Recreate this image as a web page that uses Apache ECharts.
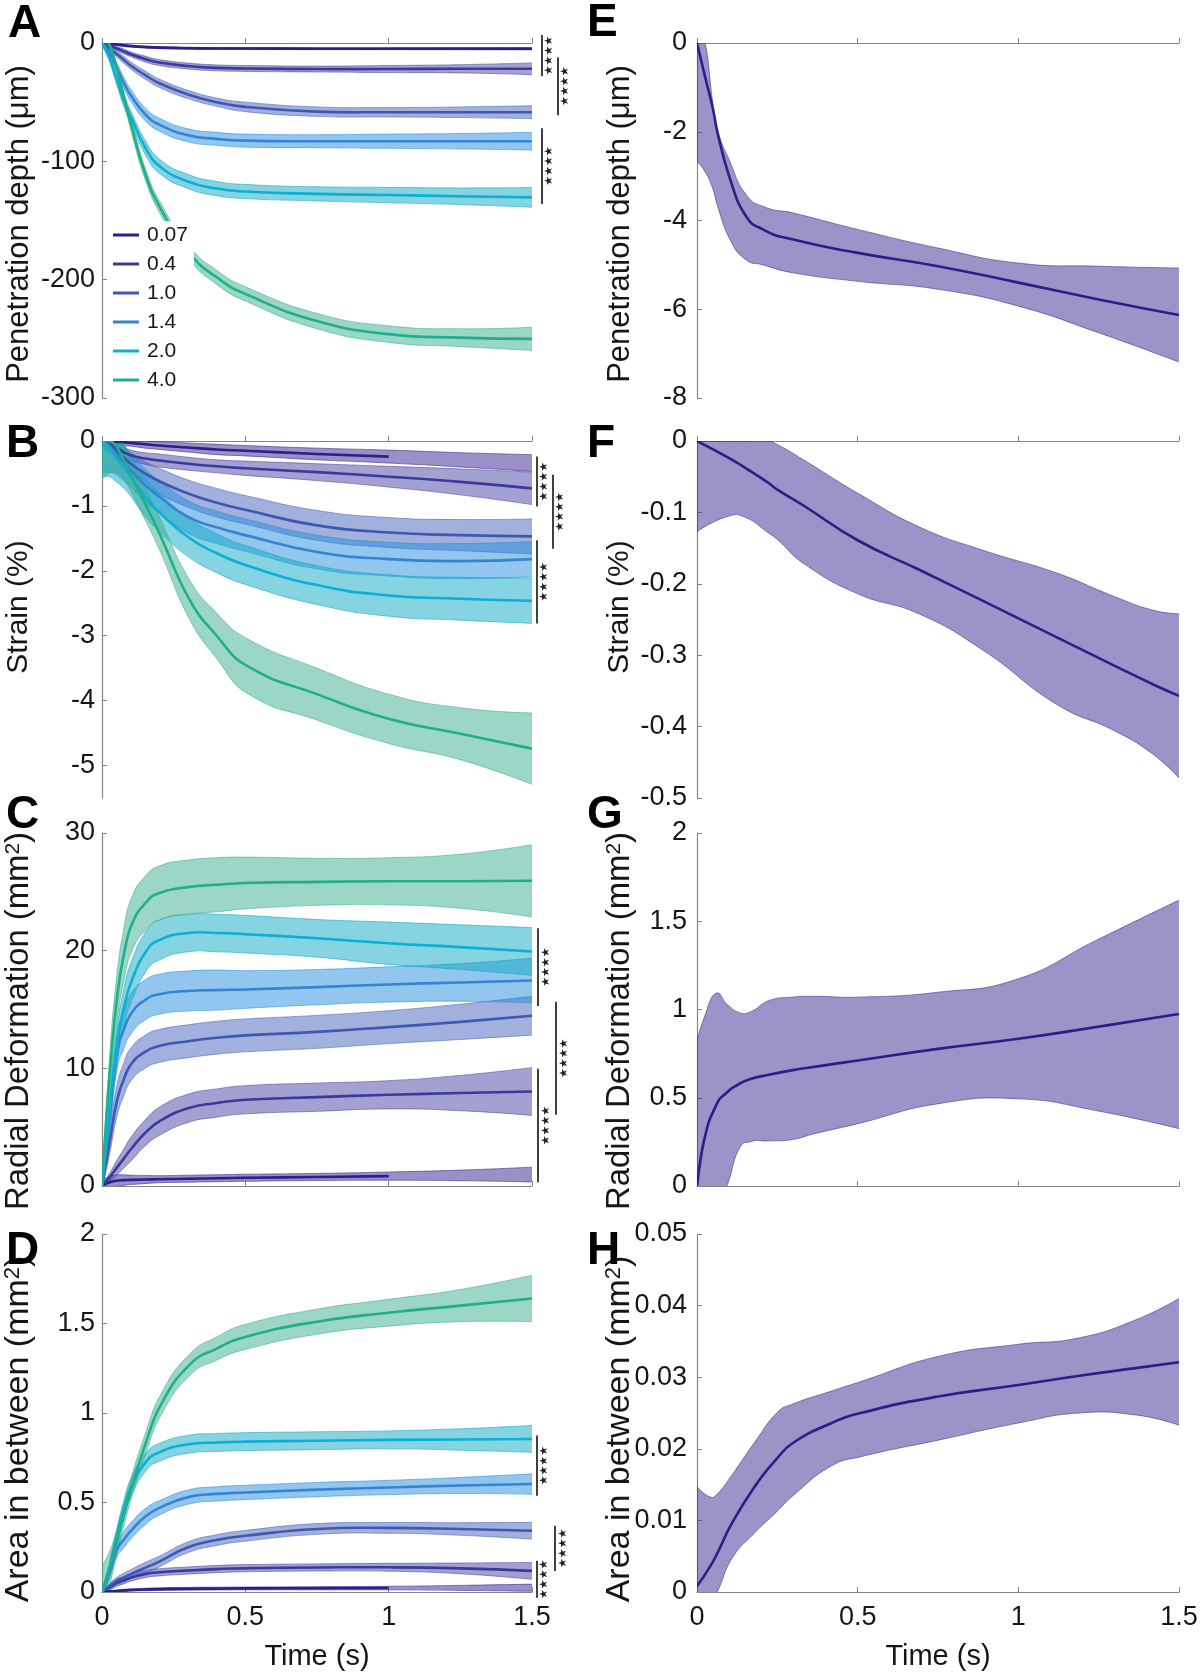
<!DOCTYPE html>
<html><head><meta charset="utf-8">
<script src="https://cdn.jsdelivr.net/npm/echarts@6/dist/echarts.min.js"></script>
<style>html,body{margin:0;padding:0;background:#fff}#c{width:1200px;height:1679px}</style>
</head><body><div id="c"></div>
<script>
const FONT = 'Liberation Sans, Arial, Helvetica, sans-serif';
const groups = ['0.07','0.4','1.0','1.4','2.0','4.0'];
const lineColors = ['#2A1F8B','#3A3A9C','#3E57B0','#3584D2','#0BB0D5','#1EB08A'];
const fillRGB = [[55,31,145],[71,67,165],[69,97,187],[37,141,221],[13,167,195],[57,173,141]];

// time grid (s) for the left column panels
const timeL = [0, 0.025, 0.05, 0.075, 0.1, 0.15, 0.2, 0.3, 0.4, 0.5, 0.75, 1.0, 1.25, 1.5];

// A: penetration depth (um), mean and half-width of band
const a007 = [0,-0.6,-1.3,-2,-2.6,-3.4,-3.9,-4.4,-4.6,-4.7,-4.8,-4.8,-4.8,-4.8];
const a007s = [0.3,0.5,0.6,0.7,0.8,0.8,0.8,0.8,0.8,0.8,0.8,0.8,0.9,1.0];
const a04 = [0,-2,-4.5,-7,-9.5,-13.5,-16.5,-19.5,-21,-21.5,-22,-22,-21.8,-21.8];
const a04s = [0.5,1,1.5,2,2,2.5,2.5,2.5,2.5,2.5,2.5,3,3.5,5];
const a10 = [0,-4,-9,-14,-19,-27,-34,-43.5,-50,-54,-58,-58.5,-58.5,-58.5];
const a10s = [1,2,2.5,3,3,3.5,3.5,3.5,3.5,4,4,4,4.5,5.5];
const a14 = [0,-8,-20,-33,-44,-60,-69,-78,-81,-82.5,-83,-83,-83,-83];
const a14s = [2,3,4,4.5,5,5.5,5.5,5.5,5.5,5.5,5.5,6,6.5,7.5];
const a20 = [0,-12,-30,-48,-62,-88,-104,-117,-123,-125.5,-127.5,-128.5,-129.5,-130.5];
const a20s = [2,3,4,5,5,6,6,6,6,6,6,6.5,7,8.3];
const a40 = [0,-1,-20,-44,-68,-110,-138,-176,-198,-212,-235,-246,-249,-250];
const a40s = [1,2,3,4,5,5,5,5.5,6,6,6.5,7,7.5,9.8];

// B: strain (%)
const b007 = [0,0,-0.01,-0.02,-0.03,-0.05,-0.07,-0.1,-0.13,-0.15,-0.2,-0.24,-0.29,-0.34];
const b007s = [0.02,0.03,0.04,0.05,0.05,0.06,0.06,0.07,0.08,0.08,0.09,0.1,0.11,0.13];
const b04 = [0,-0.03,-0.1,-0.17,-0.22,-0.27,-0.3,-0.35,-0.39,-0.42,-0.48,-0.55,-0.63,-0.73];
const b04s = [0.05,0.06,0.07,0.08,0.08,0.09,0.1,0.1,0.1,0.11,0.13,0.16,0.2,0.25];
const b10 = [0,-0.05,-0.15,-0.25,-0.35,-0.5,-0.62,-0.81,-0.95,-1.06,-1.3,-1.41,-1.45,-1.47];
const b10s = [0.1,0.12,0.14,0.16,0.17,0.18,0.2,0.21,0.22,0.22,0.23,0.23,0.24,0.27];
const b14 = [0,-0.08,-0.2,-0.33,-0.45,-0.68,-0.86,-1.17,-1.33,-1.45,-1.71,-1.82,-1.85,-1.82];
const b14s = [0.5,0.4,0.32,0.28,0.26,0.25,0.25,0.25,0.25,0.25,0.26,0.26,0.27,0.27];
const b20 = [0,-0.1,-0.25,-0.4,-0.55,-0.86,-1.1,-1.48,-1.73,-1.91,-2.22,-2.38,-2.43,-2.46];
const b20s = [0.55,0.45,0.38,0.32,0.3,0.3,0.3,0.3,0.3,0.3,0.3,0.32,0.33,0.35];
const b40 = [0,0,-0.08,-0.29,-0.52,-0.96,-1.42,-2.4,-3.0,-3.45,-3.9,-4.28,-4.51,-4.74];
const b40s = [0.6,0.5,0.4,0.3,0.25,0.25,0.25,0.3,0.35,0.42,0.4,0.38,0.4,0.55];

// C: radial deformation (mm^2)
const c007 = [0,0.3,0.45,0.5,0.52,0.55,0.58,0.62,0.66,0.7,0.77,0.84,0.9,0.97];
const c007s = [0.5,0.5,0.5,0.45,0.4,0.35,0.3,0.3,0.3,0.3,0.3,0.35,0.45,0.63];
const c04 = [0,0.7,1.5,2.3,3.1,4.5,5.5,6.6,7.05,7.33,7.55,7.75,7.9,8.03];
const c04s = [0.1,0.3,0.6,0.8,1.0,1.1,1.2,1.2,1.2,1.2,1.2,1.2,1.5,2.03];
const c10 = [0,3.5,7.0,9.0,10.3,11.4,11.9,12.3,12.6,12.8,13.1,13.5,13.95,14.47];
const c10s = [0.3,1.0,1.3,1.4,1.4,1.4,1.4,1.4,1.4,1.4,1.4,1.4,1.5,1.65];
const c14 = [0,5.5,11,13.2,14.6,15.8,16.3,16.57,16.65,16.7,16.9,17.13,17.3,17.46];
const c14s = [0.5,1.2,1.5,1.6,1.7,1.7,1.7,1.7,1.7,1.6,1.5,1.5,1.6,1.9];
const c20 = [0,6,11.5,15,17.2,19.8,20.9,21.5,21.5,21.4,21.05,20.63,20.3,19.93];
const c20s = [0.5,1.2,1.5,1.6,1.7,1.7,1.7,1.6,1.6,1.6,1.6,1.8,1.9,2.03];
const c40 = [0,9,15.5,19.5,22,24,24.9,25.4,25.6,25.75,25.85,25.9,25.9,25.94];
const c40s = [0.5,1.5,2,2.2,2.3,2.3,2.3,2.3,2.3,2.2,2.0,2.0,2.3,3.07];

// D: area in between (mm^2)
const d007 = [0,0.003,0.006,0.009,0.011,0.014,0.016,0.018,0.019,0.02,0.021,0.022,0.023,0.024];
const d007s = [0.003,0.004,0.005,0.006,0.006,0.007,0.007,0.008,0.008,0.008,0.009,0.01,0.014,0.02];
const d04 = [0,0.025,0.05,0.065,0.08,0.1,0.11,0.12,0.128,0.133,0.137,0.138,0.132,0.118];
const d04s = [0.005,0.015,0.02,0.02,0.02,0.02,0.02,0.02,0.02,0.02,0.02,0.022,0.03,0.047];
const d10 = [0,0.03,0.06,0.08,0.1,0.135,0.17,0.25,0.29,0.314,0.352,0.358,0.352,0.342];
const d10s = [0.005,0.015,0.02,0.025,0.025,0.03,0.03,0.03,0.03,0.03,0.03,0.03,0.035,0.047];
const d14 = [0,0.1,0.23,0.29,0.34,0.42,0.47,0.53,0.548,0.556,0.572,0.584,0.595,0.603];
const d14s = [0.01,0.03,0.04,0.045,0.045,0.045,0.04,0.04,0.04,0.04,0.04,0.04,0.045,0.057];
const d20 = [0,0.13,0.3,0.46,0.58,0.72,0.78,0.825,0.835,0.84,0.845,0.85,0.852,0.855];
const d20s = [0.01,0.03,0.04,0.045,0.05,0.05,0.05,0.05,0.05,0.05,0.05,0.05,0.06,0.075];
const d40 = [0,0.12,0.27,0.42,0.57,0.82,1.03,1.26,1.36,1.425,1.51,1.56,1.6,1.64];
const d40s = [0.15,0.1,0.07,0.06,0.06,0.06,0.06,0.06,0.065,0.07,0.07,0.075,0.09,0.13];

// Right column (0.07 only): time, mean, band low, band high
const timeE = [0,0.025,0.05,0.064,0.1,0.146,0.205,0.3,0.5,0.75,1.0,1.25,1.5];
const eMean = [0,-0.76,-1.5,-2.03,-3.0,-3.83,-4.2,-4.43,-4.73,-5.03,-5.4,-5.78,-6.13];
const eHi = [0,0,-1.4,-1.96,-2.63,-3.35,-3.68,-3.83,-4.2,-4.62,-4.96,-5.03,-5.07];
const eLo = [-2.67,-2.9,-3.3,-3.68,-4.39,-4.85,-5.0,-5.18,-5.37,-5.55,-5.93,-6.53,-7.19];

const timeF = [0,0.1,0.155,0.22,0.25,0.33,0.5,0.69,0.89,1.12,1.3,1.42,1.5];
const fMean = [0,-0.024,-0.039,-0.058,-0.068,-0.09,-0.139,-0.18,-0.224,-0.275,-0.315,-0.341,-0.357];
const fHi = [0,0,0,0,-0.005,-0.026,-0.073,-0.12,-0.153,-0.185,-0.218,-0.237,-0.242];
const fLo = [-0.127,-0.105,-0.108,-0.128,-0.138,-0.171,-0.214,-0.242,-0.293,-0.369,-0.406,-0.439,-0.472];

const timeG = [0,0.021,0.057,0.093,0.128,0.164,0.223,0.294,0.365,0.5,0.75,1.0,1.24,1.5];
const gMean = [0,0.25,0.447,0.53,0.575,0.605,0.63,0.655,0.675,0.711,0.777,0.834,0.9,0.975];
const gHi = [0.825,0.947,1.09,1.03,0.985,0.985,1.05,1.07,1.075,1.07,1.098,1.174,1.39,1.62];
const gLo = [-0.4,-0.3,-0.12,0,0.2,0.25,0.255,0.262,0.296,0.353,0.466,0.494,0.428,0.325];

const timeH = [0,0.04,0.063,0.105,0.176,0.248,0.295,0.414,0.51,0.75,1.0,1.19,1.37,1.5];
const hMean = [0.0008,0.0035,0.0054,0.0093,0.0145,0.0186,0.0207,0.0235,0.025,0.0273,0.0289,0.0302,0.0313,0.0321];
const hHi = [0.0147,0.0133,0.0137,0.0161,0.0207,0.025,0.0262,0.028,0.0294,0.0329,0.0346,0.0355,0.0381,0.041];
const hLo = [-0.004,-0.0015,0,0.0044,0.0081,0.0112,0.0133,0.0175,0.0189,0.0212,0.0236,0.025,0.0247,0.0233];

// significance brackets (data y-range), per left panel
const brackets = [
  {grid:0, y:[6.8,-28], dx:10, sx:17}, {grid:0, y:[-12,-61], dx:26, sx:33}, {grid:0, y:[-72,-136], dx:10, sx:17},
  {grid:1, y:[-0.24,-1.01], dx:5, sx:12}, {grid:1, y:[-0.52,-1.66], dx:21, sx:28}, {grid:1, y:[-1.53,-2.81], dx:5, sx:12},
  {grid:2, y:[21.9,15.3], dx:6, sx:14}, {grid:2, y:[15.65,6.05], dx:24, sx:32}, {grid:2, y:[9.97,0.31], dx:6, sx:14},
  {grid:3, y:[0.874,0.538], dx:5, sx:12}, {grid:3, y:[0.37,0.118], dx:23, sx:31}, {grid:3, y:[0.174,-0.032], dx:5, sx:12}
];

const leftPanels = [
  {means:[a007,a04,a10,a14,a20,a40], spreads:[a007s,a04s,a10s,a14s,a20s,a40s], cut07:false},
  {means:[b007,b04,b10,b14,b20,b40], spreads:[b007s,b04s,b10s,b14s,b20s,b40s], cut07:true},
  {means:[c007,c04,c10,c14,c20,c40], spreads:[c007s,c04s,c10s,c14s,c20s,c40s], cut07:true},
  {means:[d007,d04,d10,d14,d20,d40], spreads:[d007s,d04s,d10s,d14s,d20s,d40s], cut07:true}
];
const rightPanels = [
  {t:timeE, mean:eMean, lo:eLo, hi:eHi},
  {t:timeF, mean:fMean, lo:fLo, hi:fHi},
  {t:timeG, mean:gMean, lo:gLo, hi:gHi},
  {t:timeH, mean:hMean, lo:hLo, hi:hHi}
];

const yCfg = [
  {min:-300,max:0,interval:100},
  {min:-5.5,max:0,custom:[-5,-4,-3,-2,-1,0]},
  {min:0,max:30,interval:10},
  {min:0,max:2,interval:0.5},
  {min:-8,max:0,interval:2},
  {min:-0.5,max:0,interval:0.1},
  {min:0,max:2,interval:0.5},
  {min:0,max:0.05,interval:0.01}
];
// y-axis titles per row (same text in both columns)
const yTitles = ['Penetration depth (μm)', 'Strain (%)', 'Radial Deformation (mm{s|2})', 'Area in between (mm{s|2})'];
const titleLayout = [{fs:31, cy:224}, {fs:30, cy:607}, {fs:32.8, cy:1021}, {fs:34, cy:1429}];
const titleX = [19, 620];

const rows = [{top:43,height:355},{top:441,height:357},{top:833,height:353},{top:1234,height:358}];
const cols = [{left:102,width:430,margin:7},{left:697,width:482,margin:10}];
const AX = '#858585';
const TXT = '#161616';

const grids = [], xAxes = [], yAxes = [], series = [];
for (let k = 0; k < 8; k++) {
  const c = cols[k < 4 ? 0 : 1], r = rows[k % 4];
  const bottom = (k % 4) === 3;
  grids.push({left:c.left, top:r.top, width:c.width, height:r.height, containLabel:false, outerBoundsMode:'none'});
  xAxes.push({
    type:'value', gridIndex:k, min:0, max:1.5, interval:0.5,
    axisLine:{lineStyle:{color:AX,width:1.2}},
    axisTick:{inside:true,length:5,lineStyle:{color:AX,width:1}},
    splitLine:{show:false},
    axisLabel:{show:bottom, fontSize:27, color:TXT, fontFamily:FONT, margin:12},
    name: bottom ? 'Time (s)' : '', nameLocation:'middle', nameGap:50,
    nameTextStyle:{fontSize:29, color:TXT, fontFamily:FONT}
  });
  const y = yCfg[k];
  const ya = {
    type:'value', gridIndex:k, min:y.min, max:y.max,
    axisLine:{show:true,lineStyle:{color:AX,width:1.2}},
    axisTick:{show:true,inside:true,length:5,lineStyle:{color:AX,width:1}},
    splitLine:{show:false},
    axisLabel:{fontSize:27, color:TXT, fontFamily:FONT, margin:c.margin}
  };
  if (y.custom) { ya.axisLabel.customValues = y.custom; ya.axisTick.customValues = y.custom; }
  else ya.interval = y.interval;
  yAxes.push(ya);
}

function rgba(c, a) { return 'rgba(' + c[0] + ',' + c[1] + ',' + c[2] + ',' + a + ')'; }

// bezier smoothing of pixel points (render-time only, x-monotone control points)
function smoothPath(pts, moveFirst) {
  const n = pts.length, s = 0.5;
  let d = (moveFirst ? 'M' : 'L') + pts[0][0] + ' ' + pts[0][1];
  const cps = pts.map((p, i) => {
    if (i === 0 || i === n - 1) return [p, p];
    const pr = pts[i - 1], nx = pts[i + 1];
    const vx = nx[0] - pr[0], vy = nx[1] - pr[1];
    const d0 = p[0] - pr[0], d1 = nx[0] - p[0];
    const tot = (d0 + d1) || 1;
    return [[p[0] - vx * s * d0 / tot, p[1] - vy * s * d0 / tot], [p[0] + vx * s * d1 / tot, p[1] + vy * s * d1 / tot]];
  });
  for (let i = 0; i < n - 1; i++) {
    const c1 = cps[i][1], c2 = cps[i + 1][0], p = pts[i + 1];
    d += 'C' + c1[0] + ' ' + c1[1] + ' ' + c2[0] + ' ' + c2[1] + ' ' + p[0] + ' ' + p[1];
  }
  return d;
}
function clipRect(params) {
  const cs = params.coordSys;
  return {type:'rect', shape:{x:cs.x, y:cs.y, width:cs.width, height:cs.height}};
}
function addBand(k, key, t, lo, hi, rgb) {
  series.push({
    type:'custom', name:key, xAxisIndex:k, yAxisIndex:k, silent:true, animation:false, z:2, clip:true,
    data:t.map((x, i) => [x, lo[i], hi[i]]), encode:{x:0, y:[1, 2]},
    renderItem:function (params, api) {
      if (params.dataIndex !== 0) return null;
      const up = t.map((x, i) => api.coord([x, hi[i]]));
      const dn = t.map((x, i) => api.coord([x, lo[i]])).reverse();
      return {type:'group', clipPath:clipRect(params), children:[
        {type:'path', shape:{pathData:smoothPath(up, true) + smoothPath(dn, false) + 'Z'}, style:{fill:rgba(rgb, 0.5), stroke:null}},
        {type:'path', shape:{pathData:smoothPath(up, true)}, style:{fill:null, stroke:rgba(rgb, 0.62), lineWidth:0.9}},
        {type:'path', shape:{pathData:smoothPath(dn, true)}, style:{fill:null, stroke:rgba(rgb, 0.62), lineWidth:0.9}}
      ]};
    }
  });
}
function addLine(k, name, t, m, color) {
  series.push({
    type:'custom', name:name, xAxisIndex:k, yAxisIndex:k, silent:true, animation:false, z:3, clip:true,
    itemStyle:{color:color},
    data:t.map((x, i) => [x, m[i]]), encode:{x:0, y:1},
    renderItem:function (params, api) {
      if (params.dataIndex !== 0) return null;
      const pts = t.map((x, i) => api.coord([x, m[i]]));
      return {type:'group', clipPath:clipRect(params), children:[
        {type:'path', shape:{pathData:smoothPath(pts, true)}, style:{fill:null, stroke:color, lineWidth:2.6, lineJoin:'round'}}
      ]};
    }
  });
}

leftPanels.forEach((p, k) => {
  p.means.forEach((m, g) => {
    const s = p.spreads[g];
    addBand(k, 'L' + k + 'g' + g, timeL, m.map((v, i) => v - s[i]), m.map((v, i) => v + s[i]), fillRGB[g]);
  });
  p.means.forEach((m, g) => {
    let t = timeL, mm = m;
    if (g === 0 && p.cut07) { t = timeL.filter(x => x <= 1.0); mm = m.slice(0, t.length); }
    addLine(k, k === 0 ? groups[g] : 'L' + k + '-' + groups[g], t, mm, lineColors[g]);
  });
});
rightPanels.forEach((p, j) => {
  const k = j + 4;
  addBand(k, 'R' + k, p.t, p.lo, p.hi, [60, 40, 145]);
  addLine(k, 'R' + k + '-mean', p.t, p.mean, '#2B1E86');
});

const option = {
  animation:false,
  backgroundColor:'#ffffff',
  grid:grids, xAxis:xAxes, yAxis:yAxes, series:series,
  legend:{
    orient:'vertical', left:111, top:221, itemWidth:26, itemHeight:3, itemGap:7, icon:'rect',
    padding:[3,6,3,2], backgroundColor:'#ffffff', selectedMode:false,
    textStyle:{fontSize:21, color:TXT, fontFamily:FONT, lineHeight:22, padding:[0,0,0,3]},
    data:groups
  }
};

const chart = echarts.init(document.getElementById('c'), null, {renderer:'canvas'});
chart.setOption(option);

const gfx = [];
brackets.forEach(b => {
  const p1 = chart.convertToPixel({gridIndex:b.grid}, [1.5, b.y[0]]);
  const p2 = chart.convertToPixel({gridIndex:b.grid}, [1.5, b.y[1]]);
  const x = p1[0] + b.dx;
  gfx.push({type:'line', silent:true, z:10, shape:{x1:x, y1:p1[1], x2:x, y2:p2[1]}, style:{stroke:'#111', lineWidth:1.6}});
  gfx.push({type:'text', silent:true, z:10, x:p1[0] + b.sx, y:(p1[1] + p2[1]) / 2, rotation:Math.PI / 2,
    style:{text:'★★★★', fill:'#222', font:'11px DejaVu Sans', align:'center', verticalAlign:'middle'}});
});
// y-axis titles (rotated)
titleX.forEach(x => {
  yTitles.forEach((txt, r) => {
    const L = titleLayout[r];
    const sup = Math.round(L.fs * 0.65);
    gfx.push({type:'text', silent:true, z:10, x:x, y:L.cy, rotation:Math.PI / 2,
      style:{text:txt, fill:TXT, fontSize:L.fs, fontFamily:FONT, align:'center', verticalAlign:'middle',
        rich:{s:{fontSize:sup, fontFamily:FONT, fill:TXT, verticalAlign:'top', lineHeight:sup}}}});
  });
});
const letters = [['A',8,24],['B',6,444],['C',6,815],['D',6,1251],['E',587,23],['F',587,444],['G',587,815],['H',587,1251]];
letters.forEach(l => {
  gfx.push({type:'text', silent:true, z:11, x:l[1], y:l[2],
    style:{text:l[0], fill:'#000', font:'bold 46px Liberation Sans, Arial, sans-serif', align:'left', verticalAlign:'middle'}});
});
chart.setOption({graphic:gfx});
</script></body></html>
